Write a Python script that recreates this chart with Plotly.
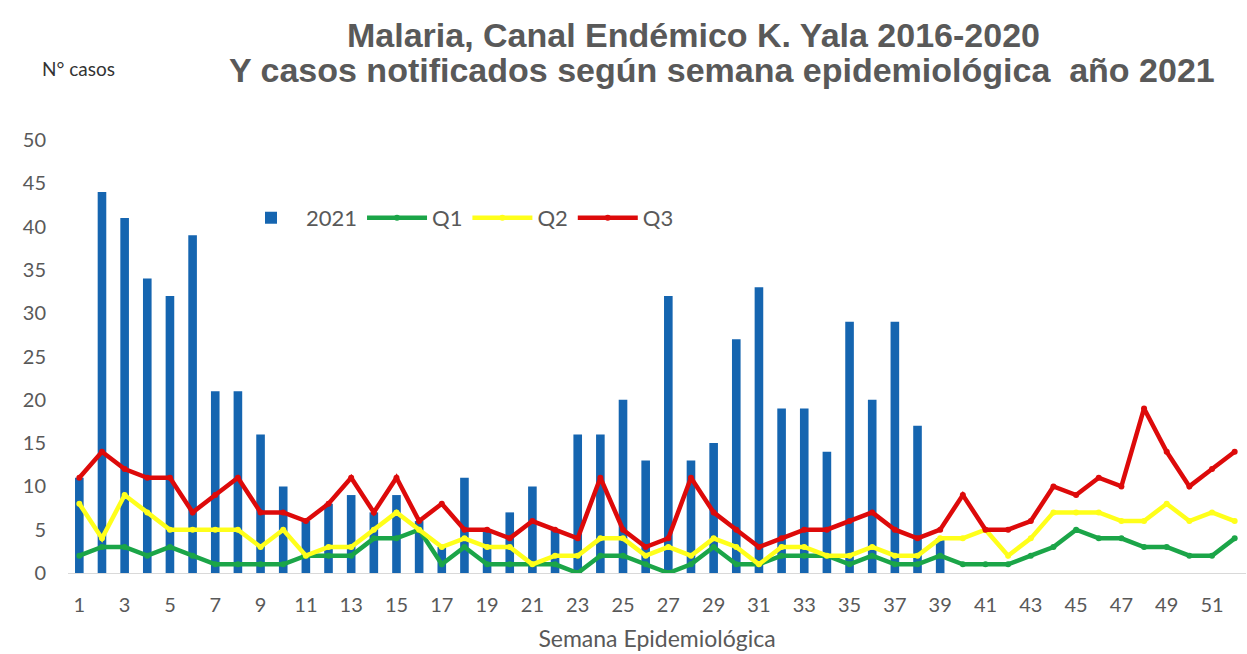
import plotly.graph_objects as go

# Semanas epidemiológicas
semanas = list(range(1, 53))
semanas_2021 = list(range(1, 40))

# Casos notificados 2021 (semanas 1-39)
casos_2021 = [11, 44, 41, 34, 32, 39, 21, 21, 16, 10,
              6, 8, 9, 7, 9, 6, 3, 11, 5, 7,
              10, 5, 16, 16, 20, 13, 32, 13, 15, 27,
              33, 19, 19, 14, 29, 20, 29, 17, 4]

# Canal endémico 2016-2020
q1 = [2, 3, 3, 2, 3, 2, 1, 1, 1, 1,
      2, 2, 2, 4, 4, 5, 1, 3, 1, 1,
      1, 1, 0, 2, 2, 1, 0, 1, 3, 1,
      1, 2, 2, 2, 1, 2, 1, 1, 2, 1,
      1, 1, 2, 3, 5, 4, 4, 3, 3, 2,
      2, 4]
q2 = [8, 4, 9, 7, 5, 5, 5, 5, 3, 5,
      2, 3, 3, 5, 7, 5, 3, 4, 3, 3,
      1, 2, 2, 4, 4, 2, 3, 2, 4, 3,
      1, 3, 3, 2, 2, 3, 2, 2, 4, 4,
      5, 2, 4, 7, 7, 7, 6, 6, 8, 6,
      7, 6]
q3 = [11, 14, 12, 11, 11, 7, 9, 11, 7, 7,
      6, 8, 11, 7, 11, 6, 8, 5, 5, 4,
      6, 5, 4, 11, 5, 3, 4, 11, 7, 5,
      3, 4, 5, 5, 6, 7, 5, 4, 5, 9,
      5, 5, 6, 10, 9, 11, 10, 19, 14, 10,
      12, 14]

titulo_1 = "Malaria, Canal Endémico K. Yala 2016-2020"
titulo_2 = "Y casos notificados según semana epidemiológica  año 2021"

gris = "#595959"
fuente = "Lato, Noto Sans, sans-serif"
fuente_titulo = "Liberation Sans Narrow, Arial Narrow, Liberation Sans, Arial, sans-serif"

fig = go.Figure()
fig.add_trace(go.Bar(x=semanas_2021, y=casos_2021, name="2021",
                     marker=dict(color="#1565B0", line=dict(width=0))))
fig.add_trace(go.Scatter(x=semanas, y=q1, name="Q1", mode="lines+markers",
                         line=dict(color="#1BA548", width=4.5),
                         marker=dict(size=6, color="#1BA548")))
fig.add_trace(go.Scatter(x=semanas, y=q2, name="Q2", mode="lines+markers",
                         line=dict(color="#FFFF1A", width=4.5),
                         marker=dict(size=6, color="#FFFF1A")))
fig.add_trace(go.Scatter(x=semanas, y=q3, name="Q3", mode="lines+markers",
                         line=dict(color="#DD0A0A", width=4.5),
                         marker=dict(size=6, color="#DD0A0A")))

fig.update_layout(
    width=1247, height=654,
    paper_bgcolor="white", plot_bgcolor="white",
    margin=dict(l=68, r=1, t=140, b=81),
    bargap=0.62,
    font=dict(family=fuente, color=gris, size=18),
    legend=dict(orientation="h", x=0.1426, y=0.82, xanchor="left", yanchor="middle",
                bgcolor="rgba(0,0,0,0)", font=dict(size=22, color=gris),
                itemwidth=60),
    showlegend=True,
)
fig.update_xaxes(range=[0.5, 52.5], tickmode="array", tickvals=list(range(1, 53, 2)),
                 showgrid=False, zeroline=False, showline=True, linecolor="#D9D9D9",
                 ticks="", tickfont=dict(size=20, color=gris), ticklabelstandoff=14,
                 automargin=False,
                 title=dict(text="Semana Epidemiológica", font=dict(size=23, color=gris), standoff=15))
fig.update_yaxes(range=[0, 50], dtick=5, showgrid=False, zeroline=False, showline=False,
                 ticks="", tickfont=dict(size=20, color=gris), ticklabelstandoff=21,
                 automargin=False)

# Título en dos líneas, cada una centrada como en el original
fig.add_annotation(text="<b>" + titulo_1 + "</b>", xref="paper", yref="paper",
                   x=0.531, y=1.2425, xanchor="center", yanchor="middle", showarrow=False,
                   font=dict(family=fuente_titulo, size=34, color=gris))
fig.add_annotation(text="<b>" + titulo_2 + "</b>", xref="paper", yref="paper",
                   x=0.555, y=1.1617, xanchor="center", yanchor="middle", showarrow=False,
                   font=dict(family=fuente_titulo, size=34, color=gris))
fig.add_annotation(text="N° casos", xref="paper", yref="paper", x=-0.0238, y=1.166,
                   xanchor="left", yanchor="middle", showarrow=False,
                   font=dict(size=19, color="#333333"))

fig.write_html("out.html", config={"displayModeBar": False},
               post_script="document.body.style.margin='0';")
